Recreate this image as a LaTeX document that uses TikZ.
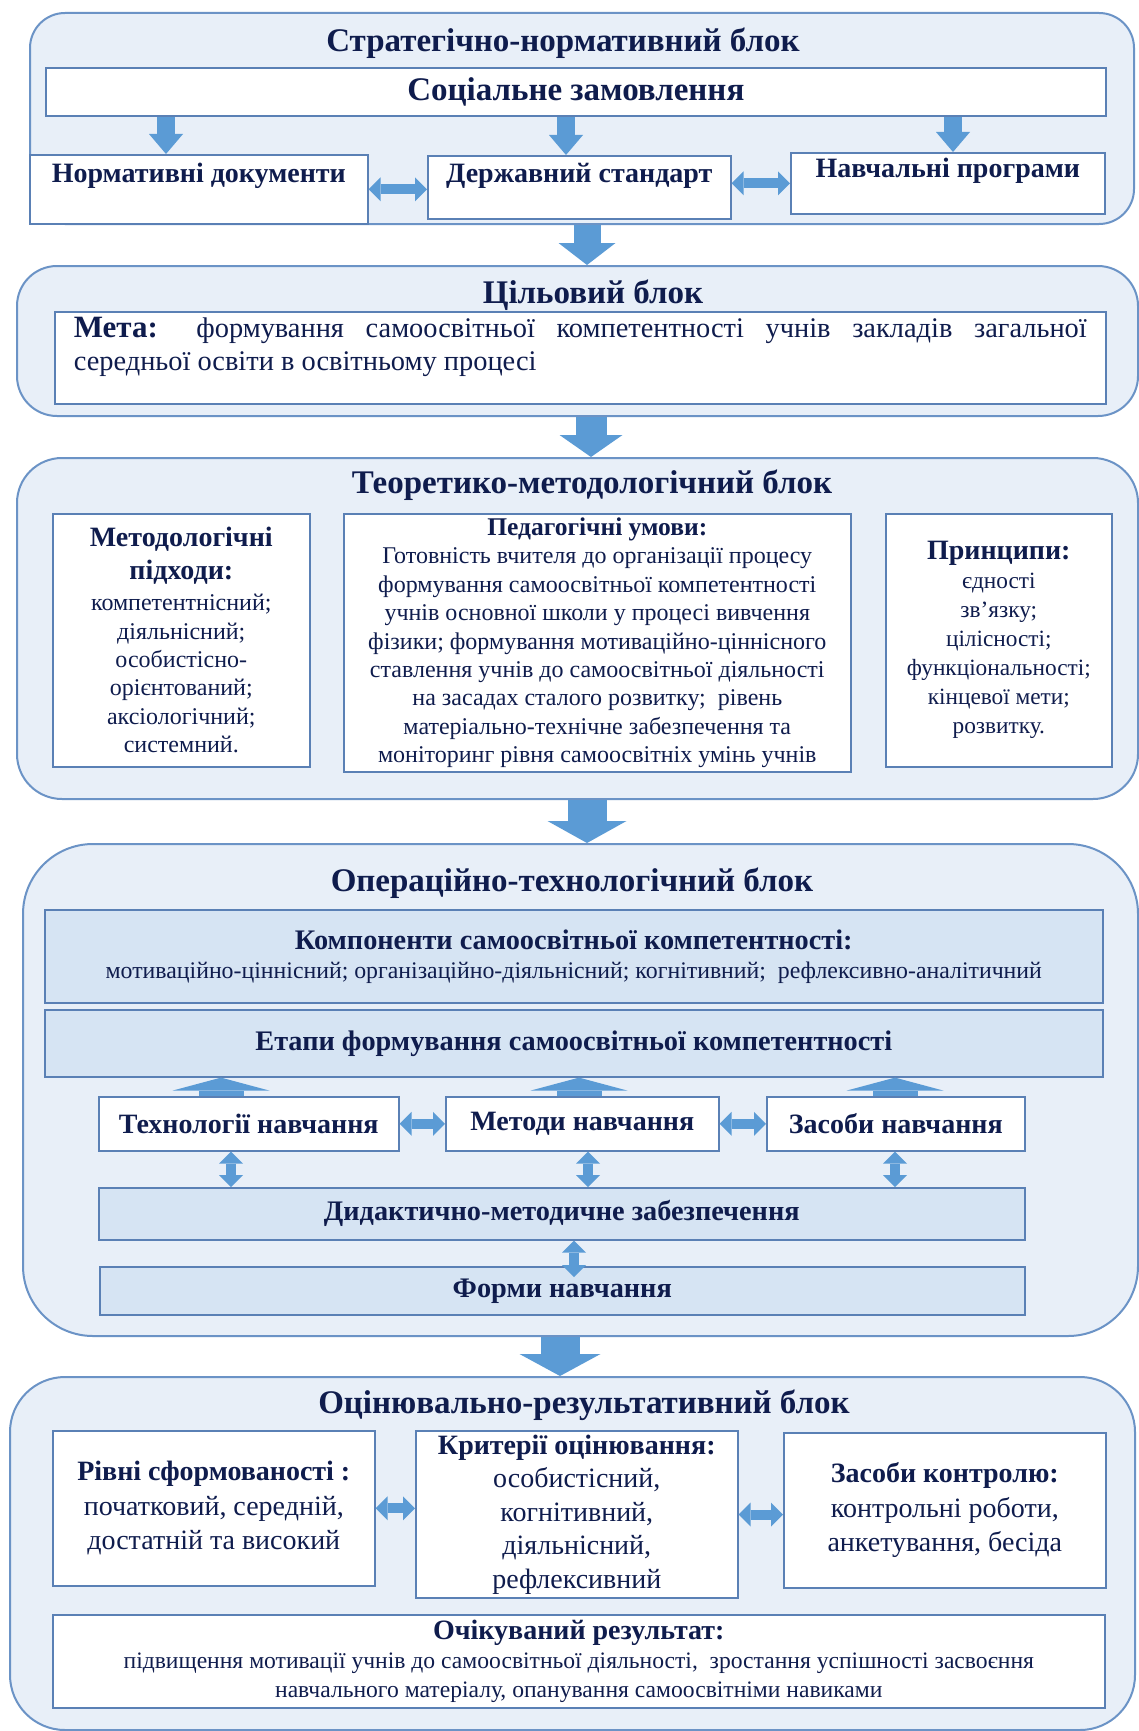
\documentclass[tikz,border=0pt]{standalone}
\usepackage{fontspec}
\setmainfont{Liberation Serif}
\usetikzlibrary{arrows.meta}

\definecolor{blockfill}{HTML}{E8EFF8}
\definecolor{blockline}{HTML}{6B93C6}
\definecolor{boxline}{HTML}{5A80B5}
\definecolor{boxfill}{HTML}{D6E4F3}
\definecolor{arrowblue}{HTML}{5B9BD5}
\definecolor{inktext}{HTML}{0F1C4D}
\newcommand\hdtext[1]{{\bfseries\fontsize{28}{34}\selectfont #1}}

\begin{document}
\begin{tikzpicture}[x=1pt, y=-1pt,
  block/.style={draw=blockline, line width=2pt, fill=blockfill, anchor=north west, inner sep=0pt},
  blocktitle/.style={text=inktext, font=\bfseries\fontsize{33}{38}\selectfont},
  whitebox/.style={draw=boxline, line width=1.6pt, fill=white, anchor=north west, inner sep=4pt, align=center, text=inktext},
  bluebox/.style={whitebox, fill=boxfill},
  bodyfont/.style={font=\fontsize{24}{28.4}\selectfont},
  headfont/.style={font=\bfseries\fontsize{28}{34}\selectfont},
  bandfont/.style={font=\bfseries\fontsize{28.3}{34}\selectfont},
  downarrow/.style 2 args={draw=arrowblue, line width=#1, -{Triangle[width=#2, length=22pt, line width=0pt]}},
  smallarrow/.style={draw=arrowblue, line width=18pt, -{Triangle[width=34pt, length=20pt, line width=0pt]}},
  uparrow/.style={draw=arrowblue, line width=45pt, -{Triangle[width=97pt, length=13pt, line width=0pt]}},
  dblarrow/.style={draw=arrowblue, line width=10pt, {Triangle[width=24pt, length=12pt, line width=0pt]}-{Triangle[width=24pt, length=12pt, line width=0pt]}}
]
\useasboundingbox[fill=white] (0,0) rectangle (1139,1731);

% Strategic block
\node[block, rounded corners=35pt, minimum width=1104pt, minimum height=211pt] (blk1) at (29,12) {};
\node[blocktitle] (t1) at (563,43) {Стратегічно-нормативний блок};
\node[whitebox, font=\bfseries\fontsize{33}{38}\selectfont, minimum width=1060pt, minimum height=48pt, inner ysep=0pt] (soc) at (45,67) {Соціальне замовлення};
\node[whitebox, headfont, minimum width=338pt, inner ysep=0pt, text height=28pt, text depth=41pt] (nd) at (29,154) {Нормативні документи};
\node[whitebox, headfont, minimum width=303pt, inner ysep=0pt, text height=27pt, text depth=36pt] (ds) at (427,155) {Державний стандарт};
\node[whitebox, headfont, minimum width=314pt, inner ysep=0pt, text height=25pt, text depth=36pt] (np) at (790,152) {Навчальні програми};
\draw[smallarrow] (166,0 |- soc.south) -- (166,0 |- nd.north);
\draw[smallarrow] (566,0 |- soc.south) -- (566,0 |- ds.north);
\draw[smallarrow] (953,0 |- soc.south) -- (953,0 |- np.north);
\draw[dblarrow] (nd.east) -- (nd.east -| ds.west);
\draw[dblarrow] (ds.east |- np.west) -- (np.west);

% Goal block
\node[block, rounded corners=40pt, minimum width=1121pt, minimum height=150pt] (blk2) at (16,265) {};
\node[blocktitle] (t2) at (593,295) {Цільовий блок};
\node[whitebox, minimum width=1051pt, inner xsep=19pt, inner ysep=0pt, text width=1013pt, align=justify,
  font=\fontsize{28.4}{33}\selectfont, text height=26pt, text depth=66pt] (goal) at (54,311)
  {{\bfseries\fontsize{31}{33}\selectfont Мета:} формування самоосвітньої компетентності учнів закладів загальної\linebreak середньої освіти в освітньому процесі};
\draw[downarrow={27pt}{57pt}] (587,0 |- blk1.south) -- (587,0 |- blk2.north);

% Theoretical block
\node[block, rounded corners=45pt, minimum width=1121pt, minimum height=341pt] (blk3) at (16,457) {};
\node[blocktitle] (t3) at (592,485) {Теоретико-методологічний блок};
\node[whitebox, bodyfont, minimum width=257pt, minimum height=253pt] (appr) at (52,513)
  {\hdtext{Методологічні}\\[4pt] \hdtext{підходи:}\\[3pt] компетентнісний;\\ діяльнісний;\\ особистісно-\\ орієнтований;\\ аксіологічний;\\ системний.};
\node[whitebox, bodyfont, minimum width=507pt, minimum height=253pt] (cond) at (343,513)
  {{\bfseries\fontsize{25.5}{28.4}\selectfont Педагогічні умови:}\\ Готовність вчителя до організації процесу\\ формування самоосвітньої компетентності\\ учнів основної школи у процесі вивчення\\ фізики; формування мотиваційно-ціннісного\\ ставлення учнів до самоосвітньої діяльності\\ на засадах сталого розвитку;\ \ рівень\\ матеріально-технічне забезпечення та\\ моніторинг рівня самоосвітніх умінь учнів};
\node[whitebox, font=\fontsize{23.3}{29}\selectfont, minimum width=226pt, minimum height=253pt] (princ) at (885,513)
  {\hdtext{Принципи:}\\ єдності\\ зв’язку;\\ цілісності;\\ функціональності;\\ кінцевої мети;\\ розвитку.};
\draw[downarrow={31pt}{63pt}] (591,0 |- blk2.south) -- (591,0 |- blk3.north);

% Operational block
\node[block, rounded corners=70pt, minimum width=1115pt, minimum height=492pt] (blk4) at (22,843) {};
\node[blocktitle] (t4) at (572,883) {Операційно-технологічний блок};
\node[bluebox, font=\fontsize{23.8}{29}\selectfont, minimum width=1058pt, minimum height=93pt] (comp) at (44,909)
  {{\bfseries\fontsize{28.3}{34}\selectfont Компоненти самоосвітньої компетентності:}\\ мотиваційно-ціннісний; організаційно-діяльнісний; когнітивний;\ \ рефлексивно-аналітичний};
\node[bluebox, bandfont, minimum width=1058pt, minimum height=67pt] (stage) at (44,1009)
  {Етапи формування самоосвітньої компетентності};
\node[whitebox, headfont, minimum width=300pt, minimum height=54pt] (tech) at (98,1096) {Технології навчання};
\node[whitebox, headfont, minimum width=273pt, minimum height=54pt] (meth) at (445,1096) {Методи навчання};
\node[whitebox, headfont, minimum width=258pt, minimum height=54pt] (tool) at (766,1096) {Засоби навчання};
\node[bluebox, bandfont, minimum width=926pt, minimum height=52pt, inner ysep=0pt] (did) at (98,1187)
  {Дидактично-методичне забезпечення};
\node[bluebox, bandfont, minimum width=925pt, minimum height=48pt, inner ysep=0pt] (form) at (99,1266)
  {Форми навчання};
\draw[uparrow] (221,0 |- tech.north) -- (221,0 |- stage.south);
\draw[uparrow] (579,0 |- meth.north) -- (579,0 |- stage.south);
\draw[uparrow] (895,0 |- tool.north) -- (895,0 |- stage.south);
\draw[dblarrow] (tech.east) -- (meth.west);
\draw[dblarrow] (meth.east) -- (tool.west);
\draw[dblarrow] (231,0 |- tech.south) -- (231,0 |- did.north);
\draw[dblarrow] (588,0 |- meth.south) -- (588,0 |- did.north);
\draw[dblarrow] (895,0 |- tool.south) -- (895,0 |- did.north);
\draw[dblarrow] (574,0 |- did.south) -- ([yshift=-11pt]574,0 |- form.north);
\draw[downarrow={39pt}{79pt}] (587,0 |- blk3.south) -- (587,0 |- blk4.north);

% Evaluation block
\node[block, rounded corners=55pt, minimum width=1125pt, minimum height=353pt] (blk5) at (9,1376) {};
\node[blocktitle] (t5) at (584,1405) {Оцінювально-результативний блок};
\node[whitebox, font=\fontsize{28}{34.5}\selectfont, minimum width=322pt, minimum height=155pt] (level) at (52,1430)
  {\textbf{Рівні сформованості :}\\ початковий, середній,\\ достатній та високий};
\node[whitebox, font=\fontsize{28}{33.5}\selectfont, minimum width=322pt, minimum height=157pt] (crit) at (415,1430)
  {\textbf{Критерії оцінювання:}\\ особистісний,\\ когнітивний,\\ діяльнісний,\\ рефлексивний};
\node[whitebox, font=\fontsize{28}{34.5}\selectfont, minimum width=322pt, minimum height=155pt] (ctrl) at (783,1432)
  {\textbf{Засоби контролю:}\\ контрольні роботи,\\ анкетування, бесіда};
\node[whitebox, font=\fontsize{23.6}{29}\selectfont, minimum width=1052pt, minimum height=93pt] (result) at (52,1614)
  {\hdtext{Очікуваний результат:}\\ підвищення мотивації учнів до самоосвітньої діяльності,\ \ зростання успішності засвоєння\\ навчального матеріалу, опанування самоосвітніми навиками};
\draw[dblarrow] (level.east) -- (level.east -| crit.west);
\draw[dblarrow] (crit.east) -- (crit.east -| ctrl.west);
\draw[downarrow={39pt}{81pt}] (560,0 |- blk4.south) -- (560,0 |- blk5.north);
\end{tikzpicture}
\end{document}
